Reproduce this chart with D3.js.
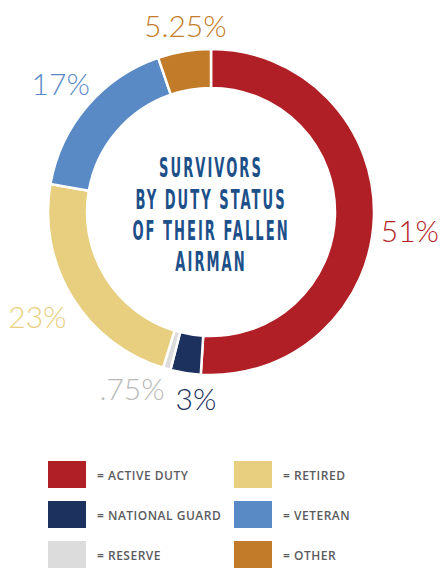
<!DOCTYPE html>
<html>
<head>
<meta charset="utf-8">
<script src="https://cdn.jsdelivr.net/npm/d3@7"></script>
<style>
  html, body { margin: 0; padding: 0; background: #fff; }
  svg { display: block; }
</style>
</head>
<body>
<svg id="chart" width="441" height="569"></svg>
<script>
// categories and shares (percent), clockwise from 12 o'clock
var categories = ["ACTIVE DUTY", "NATIONAL GUARD", "RESERVE", "RETIRED", "VETERAN", "OTHER"];
var values = [51, 3, 0.75, 23, 17, 5.25];
var labels = ["51%", "3%", ".75%", "23%", "17%", "5.25%"];
var colors = ["#B11F26", "#1D315F", "#DCDCDC", "#E8CF7F", "#5A8AC6", "#C27B28"];
var labelColors = ["#B11F26", "#1D315F", "#B9B9B9", "#E8CF7F", "#5A8AC6", "#C27B28"];
var titleLines = ["SURVIVORS", "BY DUTY STATUS", "OF THEIR FALLEN", "AIRMAN"];

var width = 441
    height = 569
    cx = 211
    cy = 212

var outerRadius = 163
var innerRadius = 124
var labelRadius = 199

// small nudges so the labels do not collide (dx, dy)
var nudge = [[0, 12], [16, -11], [-25, -16], [-4, 0], [1, 0], [7, 9]];

var svg = d3.select("#chart")

var g = svg.append("g")
    .attr("transform", "translate(" + cx + "," + cy + ")");

var data = categories.map(function(c, i) { return {key: c, value: values[i], label: labels[i], i: i}; });

var pie = d3.pie()
    .sort(null)
    .value(function(d) { return d.value; });
var data_ready = pie(data)

var arc = d3.arc()
    .innerRadius(innerRadius)
    .outerRadius(outerRadius)

var labelArc = d3.arc()
    .innerRadius(labelRadius)
    .outerRadius(labelRadius)

// slices
g.selectAll("path.slice")
  .data(data_ready)
  .enter()
  .append("path")
    .attr("class", "slice")
    .attr("d", arc)
    .attr("fill", function(d) { return colors[d.data.i]; })
    .attr("stroke", "#fff")
    .style("stroke-width", "2.5px")

// percentage labels
g.selectAll("text.pct")
  .data(data_ready)
  .enter()
  .append("text")
    .attr("class", "pct")
    .text(function(d) { return d.data.label; })
    .attr("transform", function(d) {
      var c = labelArc.centroid(d)
      var n = nudge[d.data.i]
      return "translate(" + (c[0] + n[0]) + "," + (c[1] + n[1]) + ")";
    })
    .attr("text-anchor", "middle")
    .attr("dominant-baseline", "central")
    .style("font-family", "Lato, 'Open Sans', sans-serif")
    .style("font-weight", 300)
    .style("font-size", "30px")
    .style("fill", function(d) { return labelColors[d.data.i]; })

// centre title (condensed look)
var title = g.append("g")
    .attr("transform", "translate(0,3) scale(0.56,1)")

title.selectAll("text")
  .data(titleLines)
  .enter()
  .append("text")
    .text(function(d) { return d; })
    .attr("x", 0)
    .attr("y", function(d, i) { return (i - 1.5) * 31.5; })
    .attr("text-anchor", "middle")
    .attr("dominant-baseline", "central")
    .style("font-family", "'Liberation Sans Narrow', 'DejaVu Sans Condensed', sans-serif")
    .style("font-weight", "bold")
    .style("font-size", "26px")
    .style("letter-spacing", "3.6px")
    .style("fill", "#1D5089")

// legend, two columns of three
var legend = svg.append("g")

var item = legend.selectAll("g.item")
  .data(data)
  .enter()
  .append("g")
    .attr("class", "item")
    .attr("transform", function(d, i) {
      var col = i < 3 ? 0 : 1
      var row = i % 3
      return "translate(" + (48 + col * 186) + "," + (461 + row * 40) + ")";
    })

item.append("rect")
    .attr("width", 38)
    .attr("height", 27)
    .attr("fill", function(d) { return colors[d.i]; })

item.append("text")
    .text(function(d) { return "= " + d.key; })
    .attr("x", 49)
    .attr("y", 14)
    .attr("dominant-baseline", "central")
    .style("font-family", "'Open Sans', sans-serif")
    .style("font-weight", 600)
    .style("font-size", "12px")
    .style("letter-spacing", "0.5px")
    .style("fill", "#5A5B5D")
</script>
</body>
</html>
